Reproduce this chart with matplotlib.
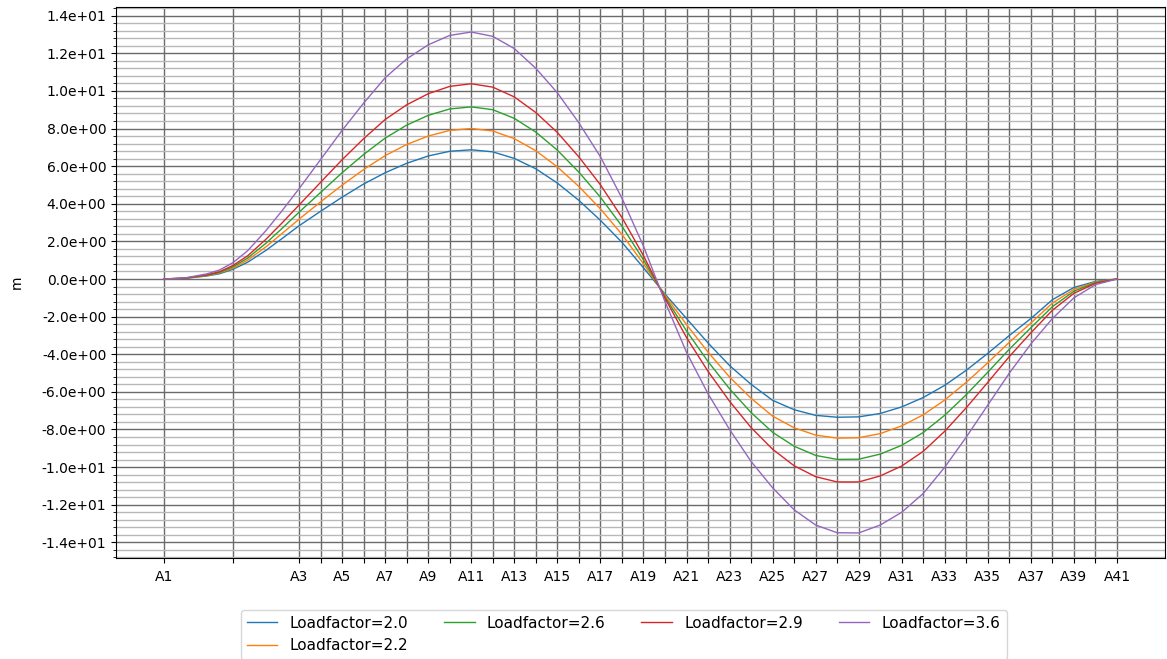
import matplotlib
matplotlib.use("Agg")
import matplotlib.pyplot as plt
from matplotlib.ticker import MultipleLocator, AutoMinorLocator, FuncFormatter

# station positions (A1..A41), the first two gaps are wider than the rest
x_pos = [0.0, 1.0, 2.0, 2.6, 3.22, 3.9, 4.75, 5.5, 6.29, 7.29, 8.29, 9.29, 10.29,
         11.29, 12.29, 13.29, 14.29, 15.29, 16.29, 17.29, 18.29, 19.29, 20.29,
         21.29, 22.29, 23.29, 24.29, 25.29, 26.29, 27.29, 28.29, 29.29, 30.29,
         31.29, 32.29, 33.29, 34.29, 35.29, 36.29, 37.29, 38.29, 39.29, 40.29,
         41.29, 42.29, 43.29, 44.29]
tick_pos = [0.0, 3.22] + x_pos[8:]
tick_labels = ['A%d' % i if i % 2 else '' for i in range(1, 42)]

lf_20 = [0, 0.035, 0.16, 0.28, 0.52, 0.89, 1.52, 2.15, 2.83, 3.6, 4.35, 5.05, 5.65,
         6.15, 6.54, 6.79, 6.87, 6.76, 6.41, 5.86, 5.10, 4.18, 3.12, 1.95, 0.6,
         -0.8, -2.1, -3.4, -4.6, -5.6, -6.45, -6.95, -7.25, -7.35, -7.33, -7.15,
         -6.8, -6.3, -5.65, -4.85, -3.95, -3.0, -2.1, -1.1, -0.45, -0.13, 0]
lf_22 = [0, 0.04, 0.18, 0.32, 0.58, 1.0, 1.71, 2.42, 3.18, 4.1, 4.99, 5.82, 6.56,
         7.15, 7.60, 7.90, 8.00, 7.87, 7.46, 6.82, 5.96, 4.92, 3.73, 2.37, 0.81,
         -0.87, -2.42, -3.89, -5.21, -6.34, -7.29, -7.91, -8.30, -8.46, -8.44,
         -8.22, -7.81, -7.22, -6.43, -5.49, -4.45, -3.36, -2.34, -1.28, -0.55,
         -0.16, 0]
lf_26 = [0, 0.04, 0.2, 0.35, 0.65, 1.11, 1.9, 2.69, 3.55, 4.6, 5.65, 6.62, 7.49,
         8.18, 8.70, 9.04, 9.15, 9.00, 8.54, 7.81, 6.85, 5.68, 4.35, 2.81, 1.02,
         -0.95, -2.76, -4.39, -5.84, -7.10, -8.15, -8.89, -9.38, -9.59, -9.58,
         -9.31, -8.84, -8.16, -7.24, -6.15, -4.95, -3.73, -2.59, -1.47, -0.65,
         -0.19, 0]
lf_29 = [0, 0.05, 0.22, 0.39, 0.72, 1.23, 2.11, 2.98, 3.93, 5.14, 6.34, 7.46, 8.48,
         9.26, 9.85, 10.24, 10.38, 10.20, 9.68, 8.85, 7.79, 6.49, 5.01, 3.27, 1.24,
         -1.02, -3.11, -4.91, -6.50, -7.90, -9.05, -9.93, -10.51, -10.79, -10.79,
         -10.47, -9.94, -9.16, -8.09, -6.84, -5.49, -4.12, -2.86, -1.66, -0.76,
         -0.23, 0]
lf_36 = [0, 0.06, 0.27, 0.48, 0.87, 1.5, 2.57, 3.63, 4.8, 6.35, 7.9, 9.35, 10.7,
         11.7, 12.45, 12.95, 13.13, 12.9, 12.25, 11.2, 9.9, 8.3, 6.5, 4.3, 1.75,
         -1.2, -3.9, -6.1, -8.0, -9.7, -11.1, -12.27, -13.08, -13.49, -13.5,
         -13.08, -12.4, -11.4, -10.0, -8.4, -6.7, -5.0, -3.45, -2.1, -1.0, -0.3, 0]
series = [lf_20, lf_22, lf_26, lf_29, lf_36]
names = ['Loadfactor=2.0', 'Loadfactor=2.2', 'Loadfactor=2.6',
         'Loadfactor=2.9', 'Loadfactor=3.6']

fig = plt.figure(figsize=(11.67, 6.59), dpi=100)
ax = fig.add_axes([0.0994, 0.1533, 0.8986, 0.8361])

for i, (vals, nm) in enumerate(zip(series, names)):
    ax.plot(x_pos, vals, color='C%d' % i, linewidth=1.0, label=nm)

ax.set_xticks(tick_pos)
ax.set_xticklabels(tick_labels)
ax.yaxis.set_major_locator(MultipleLocator(2))
ax.yaxis.set_minor_locator(AutoMinorLocator(5))
ax.yaxis.set_major_formatter(FuncFormatter(lambda v, p: '%.1e' % v))
ax.tick_params(labelsize=10)
ax.tick_params(axis='x', pad=5.5)
ax.set_ylabel('m', fontsize=10, labelpad=13)

ax.grid(True, which='major', color='#6a6a6a', linewidth=1.0)
ax.grid(True, which='minor', axis='y', color='#b8b8b8', linewidth=1.0)

ax.legend(ncol=4, loc='upper center', bbox_to_anchor=(0.484, -0.08),
          fontsize=11, columnspacing=2.35)

fig.savefig('out.png', dpi=100)
